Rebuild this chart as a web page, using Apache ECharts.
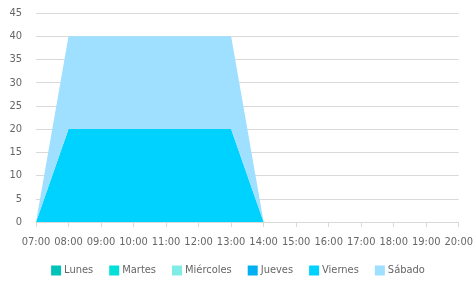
<!DOCTYPE html>
<html><head><meta charset="utf-8">
<script src="https://cdn.jsdelivr.net/npm/echarts@6/dist/echarts.min.js"></script>
<style>html,body{margin:0;padding:0;background:#fff}#c{width:476px;height:281px}</style>
</head><body><div id="c"></div>
<script>
const categories = ['07:00','08:00','09:00','10:00','11:00','12:00','13:00','14:00','15:00','16:00','17:00','18:00','19:00','20:00'];
const seriesNames = ['Lunes','Martes','Miércoles','Jueves','Viernes','Sábado'];
const colors = ['#00c2b8','#00e0d8','#80ece6','#00b0f0','#00d2ff','#9fdfff'];
const lunes     = [0,0,0,0,0,0,0,0,0,0,0,0,0,0];
const martes    = [0,0,0,0,0,0,0,0,0,0,0,0,0,0];
const miercoles = [0,0,0,0,0,0,0,0,0,0,0,0,0,0];
const jueves    = [0,0,0,0,0,0,0,0,0,0,0,0,0,0];
const viernes   = [0,20,20,20,20,20,20,0,0,0,0,0,0,0];
const sabado    = [0,20,20,20,20,20,20,0,0,0,0,0,0,0];
const yTicks = {min:0, max:45, interval:5};
const allData = [lunes, martes, miercoles, jueves, viernes, sabado];
const font = '"DejaVu Sans Condensed", sans-serif';
const chart = echarts.init(document.getElementById('c'), null, {renderer:'canvas'});
chart.setOption({
  animation:false,
  textStyle:{fontFamily:font},
  grid:{left:36,right:16,top:13,bottom:59},
  legend:{bottom:0,left:'center',itemWidth:10,itemHeight:10,itemGap:16,icon:'rect',
    textStyle:{color:'#666666',fontSize:11,fontFamily:font,padding:[0,0,0,-2]},
    data:seriesNames},
  xAxis:{type:'category',boundaryGap:false,data:categories,
    axisLine:{lineStyle:{color:'#d9d9d9'}},axisTick:{show:true,alignWithLabel:true,lineStyle:{color:'#d9d9d9'}},
    axisLabel:{color:'#666666',fontSize:11,fontFamily:font,margin:15,interval:0}},
  yAxis:{type:'value',min:yTicks.min,max:yTicks.max,interval:yTicks.interval,
    axisLine:{show:false},axisTick:{show:false},
    splitLine:{lineStyle:{color:'#d9d9d9'}},
    axisLabel:{color:'#666666',fontSize:11,fontFamily:font,margin:14}},
  series: seriesNames.map((n,i)=>({name:n,type:'line',stack:'total',data:allData[i],
    symbol:'none',lineStyle:{width:0},itemStyle:{color:colors[i]},areaStyle:{color:colors[i],opacity:1}}))
});
</script></body></html>
